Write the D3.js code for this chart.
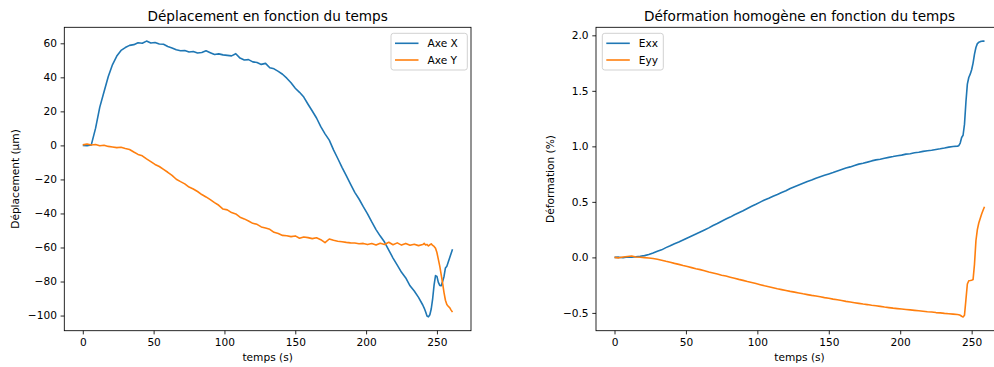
<!DOCTYPE html>
<html lang="fr">
<head>
  <meta charset="utf-8" />
  <title>Déplacement / Déformation</title>
  <script src="https://d3js.org/d3.v7.min.js"></script>
  <style>
    body { margin: 0; padding: 0; background: #ffffff; }
    svg { display: block; font-family: "DejaVu Sans", sans-serif; }
    .axis path { display: none; }
    .axis line { stroke: #000; stroke-width: 0.85; }
    .axis text { font-size: 10.6px; fill: #000; font-family: "DejaVu Sans", sans-serif; }
    .spine { fill: none; stroke: #000; stroke-width: 0.85; }
    .title { font-size: 13.6px; fill: #000; }
    .label { font-size: 10.6px; fill: #000; }
    .legend text { font-size: 10.6px; fill: #000; }
  </style>
</head>
<body>
<div id="chart"></div>
<script>
/* =========================
   1) DATA (read off the picture)
   ========================= */
// left plot : time (s)
const tDepl = [0,3,6,9,12,15,18,21,24,27,30,33,36,39,42,45,48,51,54,57,60,63,66,69,72,75,78,81,84,87,90,93,96,99,102,105,108,111,114,117,120,123,126,129,132,135,138,141,144,147,150,153,156,159,162,165,168,171,174,177,180,183,186,189,192,195,198,201,204,207,210,213,216,219,222,225,228,231,234,237,240,
  241,242,243,244,245,246,247,248,249,250,251,252,253,254,255,256,257,258,259,260,261];
// displacement (µm)
const axeX = [0,-0.2,0.3,10,22.5,31.5,40.5,47.5,52.5,55.8,57.5,58.8,59.2,60.3,60,61.3,60.2,60.5,59.6,59.4,58.1,57.3,56.2,55.6,55.8,54.9,55.2,54.3,54.6,55.6,54.5,53.4,53.8,53.2,52.9,52.6,53.9,51.3,50.2,50.4,49.1,48.7,47.6,48.2,45.6,45,43.5,41.8,39.5,36.8,33.6,31.2,28.4,24.2,20.2,16.1,11,6.8,3.1,-2.6,-7.7,-12.9,-17.8,-22.7,-27.6,-31.5,-36,-40.2,-45,-49.5,-53.3,-56.8,-61.5,-66.2,-70.4,-74.6,-77.9,-82.5,-85.6,-89.3,-93.8,
  -95.6,-97.8,-100.3,-100.8,-99.5,-96,-90,-82,-76.5,-77,-80.5,-82.3,-82.5,-80,-77,-72,-71,-68.5,-66,-63.5,-61];
const axeY = [0.3,0.8,0.2,0.5,-0.2,0.1,-0.6,-0.9,-1.3,-1.1,-1.8,-2.4,-3.9,-5.3,-6.1,-7.9,-9.5,-11.2,-12.4,-14.1,-15.8,-17.6,-19.9,-21.3,-22.6,-24.5,-25.6,-27.1,-28.9,-30.3,-31.9,-33.6,-35.2,-37.4,-37.9,-39.5,-40.3,-42.2,-43.2,-44.4,-45.8,-46.4,-47.9,-48.6,-49.3,-51.1,-51.8,-52.9,-53.1,-53.6,-53.2,-54.6,-53.8,-54.2,-54.8,-54.3,-55.4,-57.2,-55,-55.8,-56.3,-56.6,-57,-57.3,-57.4,-57.8,-57.6,-58.3,-57.7,-58.6,-57.5,-58.2,-56.9,-58.4,-57.3,-58.6,-57.6,-58.7,-58.1,-58.9,-58.3,
  -57.6,-58.5,-58.2,-59.1,-58.4,-57.9,-58.8,-59.4,-60.5,-63,-67,-71,-76,-81,-86.5,-91,-93.5,-94.6,-95.3,-96.8,-98];

// right plot : time (s)
const tDef = [0,3,6,9,12,15,18,21,24,27,30,33,36,39,42,45,48,51,54,57,60,63,66,69,72,75,78,81,84,87,90,93,96,99,102,105,108,111,114,117,120,123,126,129,132,135,138,141,144,147,150,153,156,159,162,165,168,171,174,177,180,183,186,189,192,195,198,201,204,207,210,213,216,219,222,225,228,231,234,237,240,
  241,242,243,244,245,246,247,248,249,250,251,252,253,254,255,256,257,258,259];
// strain (%)
const exx = [0,0.002,-0.003,0.004,0.001,0.006,0.01,0.016,0.026,0.04,
  0.055,0.068,0.088,0.104,0.122,0.138,0.156,0.175,0.193,0.21,
  0.228,0.247,0.266,0.287,0.305,0.326,0.345,0.363,0.384,0.402,
  0.42,0.441,0.46,0.478,0.498,0.517,0.533,0.551,0.567,0.585,
  0.6,0.62,0.636,0.652,0.668,0.684,0.697,0.713,0.726,0.739,
  0.752,0.764,0.778,0.792,0.805,0.815,0.828,0.84,0.848,0.858,
  0.869,0.878,0.884,0.893,0.901,0.908,0.916,0.921,0.93,0.934,
  0.942,0.947,0.955,0.96,0.965,0.972,0.978,0.985,0.993,0.998,
  1.002,
  1.006,1.03,1.08,1.1,1.2,1.4,1.56,1.62,1.65,1.69,1.75,1.83,1.89,1.925,1.937,1.943,1.946,1.948,1.948];
const eyy = [0,-0.004,0.003,0.008,0.012,0.004,0.001,-0.002,-0.005,-0.01,
  -0.016,-0.025,-0.035,-0.044,-0.054,-0.063,-0.073,-0.082,-0.092,-0.102,
  -0.11,-0.12,-0.131,-0.14,-0.15,-0.16,-0.168,-0.178,-0.188,-0.198,
  -0.207,-0.217,-0.226,-0.236,-0.246,-0.256,-0.264,-0.273,-0.282,-0.29,
  -0.298,-0.306,-0.313,-0.32,-0.328,-0.335,-0.342,-0.348,-0.355,-0.362,
  -0.368,-0.376,-0.382,-0.389,-0.396,-0.402,-0.408,-0.414,-0.42,-0.425,
  -0.431,-0.436,-0.441,-0.447,-0.452,-0.457,-0.461,-0.465,-0.469,-0.473,
  -0.477,-0.481,-0.485,-0.489,-0.492,-0.497,-0.5,-0.504,-0.507,-0.511,
  -0.515,
  -0.517,-0.521,-0.53,-0.536,-0.52,-0.38,-0.24,-0.21,-0.208,-0.205,-0.2,-0.06,0.15,0.25,0.31,0.35,0.39,0.425,0.456];

const xTicks = [0, 50, 100, 150, 200, 250];
const yTicksDepl = [-100, -80, -60, -40, -20, 0, 20, 40, 60];
const yTicksDef = [-0.5, 0.0, 0.5, 1.0, 1.5, 2.0];

const colors = ["#1f77b4", "#ff7f0e"];

/* =========================
   2) SETUP
   ========================= */
const W = 994, H = 367;
const svg = d3.select("#chart").append("svg")
  .attr("width", W).attr("height", H);

// pad a domain by 5% like matplotlib does
function padded(lo, hi) {
  const m = (hi - lo) * 0.05;
  return [lo - m, hi + m];
}

/* =========================
   3) DRAW ONE PANEL
   ========================= */
function drawPanel(opts) {
  const { left, top, width, height, t, series, names, yTicks, yFmt, title, ylabel, legendX } = opts;

  const g = svg.append("g").attr("transform", `translate(${left},${top})`);

  const allY = series.flat();
  const x = d3.scaleLinear().domain(padded(d3.min(t), d3.max(t))).range([0, width]);
  const y = d3.scaleLinear().domain(padded(d3.min(allY), d3.max(allY))).range([height, 0]);

  // lines
  series.forEach((vals, i) => {
    const n = Math.min(t.length, vals.length);
    if (t.length !== vals.length) console.warn("length mismatch", names[i], t.length, vals.length);
    const pts = d3.range(n).map(k => [t[k], vals[k]]);
    g.append("path")
      .datum(pts)
      .attr("fill", "none")
      .attr("stroke", colors[i])
      .attr("stroke-width", 1.6)
      .attr("stroke-linejoin", "round")
      .attr("d", d3.line().x(d => x(d[0])).y(d => y(d[1])));
  });

  // axes
  g.append("g")
    .attr("class", "axis")
    .attr("transform", `translate(0,${height})`)
    .call(d3.axisBottom(x).tickValues(xTicks).tickFormat(d3.format("d")).tickSize(3.7).tickSizeOuter(0).tickPadding(3.7));

  g.append("g")
    .attr("class", "axis")
    .call(d3.axisLeft(y).tickValues(yTicks).tickFormat(yFmt).tickSize(3.7).tickSizeOuter(0).tickPadding(3.7));

  // spines
  g.append("rect").attr("class", "spine")
    .attr("x", 0).attr("y", 0).attr("width", width).attr("height", height);

  // title + labels
  g.append("text").attr("class", "title")
    .attr("x", width / 2).attr("y", -6.5)
    .attr("text-anchor", "middle")
    .text(title);

  g.append("text").attr("class", "label")
    .attr("x", width / 2).attr("y", height + 26.5)
    .attr("dy", "0.35em")
    .attr("text-anchor", "middle")
    .text("temps (s)");

  g.append("text").attr("class", "label")
    .attr("transform", `translate(${opts.ylabelX - left},${height / 2}) rotate(-90)`)
    .attr("dy", "0.35em")
    .attr("text-anchor", "middle")
    .text(ylabel);

  // legend
  const lg = svg.append("g").attr("class", "legend")
    .attr("transform", `translate(${legendX},33.3)`);
  lg.append("rect")
    .attr("width", opts.legendW).attr("height", 36.7)
    .attr("rx", 2.5)
    .attr("fill", "rgba(255,255,255,0.8)")
    .attr("stroke", "#cccccc")
    .attr("stroke-width", 0.9);
  names.forEach((nm, i) => {
    const yy = 10 + i * 16.7;
    lg.append("line")
      .attr("x1", 4).attr("x2", 27.5)
      .attr("y1", yy).attr("y2", yy)
      .attr("stroke", colors[i]).attr("stroke-width", 1.6);
    lg.append("text")
      .attr("x", 36.5).attr("y", yy)
      .attr("dy", "0.36em")
      .text(nm);
  });
}

/* =========================
   4) PANELS
   ========================= */
drawPanel({
  left: 64.3, top: 27.3, width: 406.7, height: 303.4,
  t: tDepl, series: [axeX, axeY], names: ["Axe X", "Axe Y"],
  yTicks: yTicksDepl, yFmt: d3.format("d"),
  title: "Déplacement en fonction du temps",
  ylabel: "Déplacement (µm)", ylabelX: 15,
  legendX: 391, legendW: 76.3
});

drawPanel({
  left: 596, top: 27.3, width: 407, height: 303.4,
  t: tDef, series: [exx, eyy], names: ["Exx", "Eyy"],
  yTicks: yTicksDef, yFmt: d3.format(".1f"),
  title: "Déformation homogène en fonction du temps",
  ylabel: "Déformation (%)", ylabelX: 550,
  legendX: 602.3, legendW: 61
});
</script>
</body>
</html>
